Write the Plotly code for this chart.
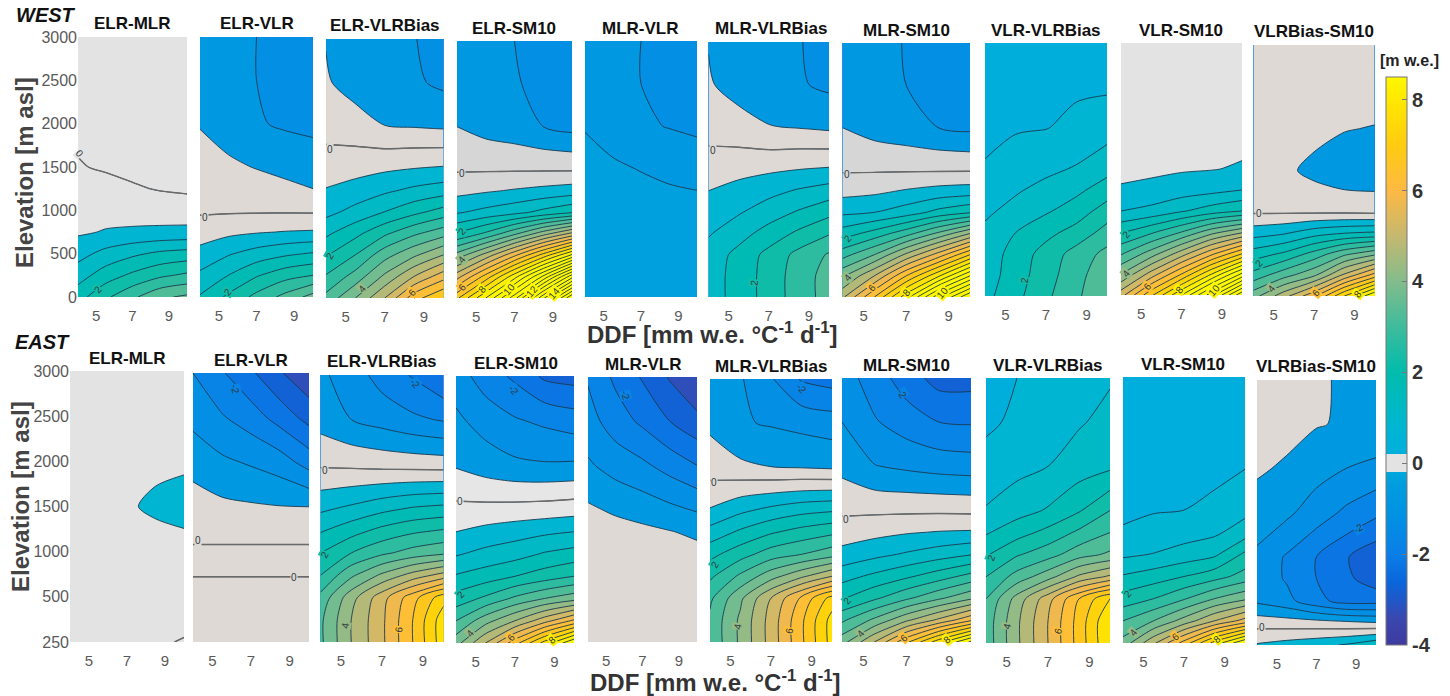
import plotly.graph_objects as go

DDF = [4, 5.5, 7, 8.5, 10]
ELEV = [0, 250, 500, 750, 1000, 1250, 1500, 2000, 2500, 3000]
X_TICKS = [5, 7, 9]
Y_TICKS = [0, 500, 1000, 1500, 2000, 2500, 3000]
WEST_LABELS = ["0", "500", "1000", "1500", "2000", "2500", "3000"]
EAST_LABELS = ["250", "500", "1000", "1500", "2000", "2500", "3000"]
BAR_TICKS = [-4, -2, 0, 2, 4, 6, 8]
NAMES = ["ELR-MLR", "ELR-VLR", "ELR-VLRBias", "ELR-SM10", "MLR-VLR",
         "MLR-VLRBias", "MLR-SM10", "VLR-VLRBias", "VLR-SM10", "VLRBias-SM10"]

# rows: one per ELEV value, columns: one per DDF value [m w.e.]
W_ELR_MLR = [[1.8,2.4,2.9,3.4,3.6],[1.27,1.75,2.1,2.4,2.6],[.82,1.15,1.4,1.6,1.7],[.43,.53,.57,.6,.62],
             [.34,.32,.3,.27,.25],[.2,.15,.05,-.03,-.08],[.03,-.05,-.12,-.17,-.2],[-.1,-.15,-.2,-.25,-.3],
             [-.12,-.18,-.22,-.28,-.32],[-.15,-.2,-.25,-.3,-.35]]
W_ELR_VLR = [[1.55,2.1,2.65,3.15,3.7],[1.1,1.5,1.95,2.3,2.5],[.65,.95,1.2,1.4,1.55],[.27,.38,.46,.52,.55],
             [-.08,-.07,-.07,-.07,-.08],[-.2,-.25,-.32,-.4,-.5],[-.3,-.42,-.52,-.62,-.68],[-.53,-.7,-.95,-1.07,-1.15],
             [-.6,-.8,-1.0,-1.1,-1.2],[-.62,-.82,-1.0,-1.12,-1.25]]
W_ELR_VLRBIAS = [[3.15,4.0,5.0,6.3,7.0],[2.55,3.2,4.1,5.0,5.8],[1.95,2.5,3.3,3.9,4.5],[1.4,1.85,2.4,2.9,3.3],
                 [.85,1.15,1.5,1.85,2.2],[.53,.7,.9,1.1,1.25],[.25,.32,.42,.5,.56],[-.2,-.3,-.5,-.55,-.6],
                 [-.45,-.7,-.8,-.93,-1.1],[-.52,-.75,-.85,-.98,-1.2]]
W_ELR_SM10 = [[6.9,8.5,10.3,12.9,15.5],[5.3,6.7,8.3,10.1,12.3],[3.7,4.7,5.9,7.2,8.6],[2.05,2.6,3.4,4.3,5.15],
              [.95,1.15,1.35,1.65,1.95],[.35,.45,.55,.65,.75],[-.05,-.05,-.05,-.05,-.05],[-.5,-.68,-.8,-1.0,-1.15],
              [-.65,-.8,-.95,-1.15,-1.3],[-.75,-.88,-1.0,-1.2,-1.4]]
W_MLR_VLR = [[-.1,-.1,-.1,-.1,-.1],[-.1,-.1,-.1,-.1,-.1],[-.12,-.12,-.12,-.12,-.12],[-.15,-.15,-.15,-.15,-.15],
             [-.2,-.22,-.25,-.3,-.35],[-.25,-.3,-.38,-.45,-.5],[-.32,-.42,-.52,-.62,-.7],[-.53,-.72,-.93,-1.02,-1.1],
             [-.62,-.82,-1.0,-1.1,-1.2],[-.65,-.85,-1.0,-1.12,-1.25]]
W_MLR_VLRBIAS = [[1.25,1.7,2.2,2.75,3.2],[1.25,1.7,2.2,2.75,3.2],[1.2,1.65,2.15,2.65,3.05],[.95,1.3,1.7,2.1,2.45],
                 [.7,.95,1.25,1.55,1.85],[.5,.68,.85,1.05,1.22],[.25,.33,.42,.5,.56],[-.2,-.3,-.48,-.53,-.6],
                 [-.45,-.7,-.8,-.95,-1.1],[-.52,-.75,-.85,-.97,-1.2]]
W_MLR_SM10 = [[4.9,6.5,8.3,10.3,12],[3.9,5.0,6.5,7.9,9.5],[2.8,3.5,4.6,5.7,7],[1.75,2.2,2.8,3.6,4.5],
              [.9,1.0,1.25,1.65,1.95],[.33,.4,.55,.68,.75],[-.05,-.05,-.05,-.05,-.05],[-.5,-.7,-.83,-1,-1.1],
              [-.6,-.82,-1,-1.15,-1.25],[-.7,-.88,-1.02,-1.2,-1.3]]
W_VLR_VLRBIAS = [[1.35,1.85,2.4,2.9,3.5],[1.25,1.75,2.3,2.8,3.4],[1.2,1.7,2.2,2.7,3.15],[1.1,1.5,1.85,2.2,2.7],
                 [.92,1.15,1.45,1.75,2.25],[.75,.95,1.15,1.4,1.75],[.55,.75,.9,1.05,1.35],[.35,.45,.48,.62,.76],
                 [.25,.3,.35,.42,.42],[.2,.25,.3,.35,.4]]
W_VLR_SM10 = [[5.3,6.9,8.5,10.3,12.4],[4,5.2,6.5,8,9.6],[2.9,3.7,4.7,5.8,6.9],[1.95,2.4,3,3.8,4.4],
              [1,1.15,1.45,1.75,2],[.55,.62,.75,.85,1],[.38,.41,.45,.48,.55],[.2,.2,.22,.25,.3],
              [.15,.15,.16,.17,.2],[.1,.1,.1,.12,.15]]
W_VLRBIAS_SM10 = [[3.8,4.8,5.9,7.5,9],[2.7,3.3,3.9,5.1,6.2],[1.75,2.1,2.7,3.4,3.9],[.8,.95,1.3,1.5,1.6],
                  [-.05,-.05,-.05,-.05,-.08],[-.15,-.25,-.38,-.48,-.5],[-.2,-.4,-.62,-.72,-.8],[-.2,-.25,-.35,-.48,-.52],
                  [-.2,-.2,-.22,-.25,-.3],[-.2,-.2,-.2,-.2,-.2]]

E_ELR_MLR = [[.1,.1,.1,.1,-.05],[.2,.2,.2,.2,.2],[.2,.2,.2,.2,.2],[.2,.2,.2,.2,.2],
             [.2,.2,.2,.25,.3],[.2,.2,.25,.35,.49],[.2,.25,.38,.68,.85],[.2,.2,.22,.28,.35],
             [.2,.2,.2,.2,.2],[.2,.2,.2,.2,.2]]
E_ELR_VLR = [[-.1,-.1,-.1,-.1,-.1],[-.08,-.08,-.08,-.08,-.08],[-.05,-.05,-.05,-.05,-.05],[.005,.005,.005,.005,.005],
             [.08,.08,.08,.08,.08],[-.15,-.15,-.15,-.15,-.15],[-.3,-.38,-.43,-.47,-.48],[-.65,-.9,-1.05,-1.25,-1.7],
             [-1.15,-1.45,-1.75,-2.2,-2.67],[-1.5,-1.95,-2.42,-2.95,-3.4]]
E_ELR_VLRBIAS = [[3.4,4.5,5.4,6.5,7.8],[3.4,4.5,5.4,6.5,7.8],[3.15,4.3,5.3,6.3,7.3],[2.5,3.4,4.1,4.7,5.2],
                 [2,2.5,2.9,3.2,3.4],[1.45,1.8,2.15,2.4,2.55],[.9,1.1,1.35,1.55,1.65],[-.08,-.12,-.18,-.22,-.25],
                 [-.7,-1,-1.2,-1.4,-1.55],[-.9,-1.25,-1.7,-2.05,-2.5]]
E_ELR_SM10 = [[3.8,5,6.3,7.7,9],[3,3.8,4.5,5.3,6.1],[2.2,2.6,3.1,3.5,3.8],[1.55,1.75,2,2.25,2.5],
              [.95,1.15,1.3,1.55,1.7],[.5,.65,.78,.9,1],[.13,.15,.18,.22,.28],[-.55,-.75,-.9,-.95,-.93],
              [-.9,-1.2,-1.45,-1.6,-1.75],[-1.25,-1.75,-2.1,-2.6,-2.7]]
E_MLR_VLR = [[-.1,-.1,-.1,-.1,-.1],[-.1,-.1,-.1,-.1,-.1],[-.1,-.1,-.1,-.1,-.1],[-.1,-.1,-.12,-.15,-.2],
             [-.12,-.15,-.2,-.3,-.35],[-.2,-.3,-.38,-.48,-.6],[-.42,-.58,-.72,-.88,-1.05],[-.93,-1.2,-1.4,-1.7,-2],
             [-1.3,-1.75,-2.1,-2.5,-2.85],[-1.55,-2.1,-2.55,-3.05,-3.5]]
E_MLR_VLRBIAS = [[3.1,4.1,5.2,6.4,7.7],[3.1,4.1,5.2,6.4,7.7],[2.9,3.9,5,6.1,7.2],[2.4,3.1,3.8,4.4,5],
                 [1.85,2.3,2.75,3,3.3],[1.2,1.6,1.95,2.2,2.4],[.55,.9,1.15,1.35,1.45],[-.25,-.4,-.5,-.55,-.6],
                 [-.6,-.95,-1.05,-1.15,-1.25],[-.7,-.95,-1.45,-2.05,-2.2]]
E_MLR_SM10 = [[3.8,5,6.4,7.8,9.1],[2.9,3.6,4.4,5.1,5.9],[1.95,2.4,2.9,3.4,3.9],[1.3,1.6,1.9,2.25,2.65],
              [.65,.85,1.05,1.25,1.45],[.25,.35,.45,.52,.55],[-.1,-.1,-.1,-.1,-.12],[-.65,-.98,-1.1,-1.2,-1.25],
              [-1,-1.45,-1.75,-2,-2.05],[-1.25,-1.75,-2.25,-2.7,-2.7]]
E_VLR_VLRBIAS = [[3.2,4.4,5.5,6.7,8],[3.2,4.4,5.5,6.7,8],[3,4.2,5.3,6.5,7.5],[2.5,3.2,3.8,4.6,5.1],
                 [1.95,2.45,2.8,3.3,3.6],[1.45,1.8,2.15,2.6,3],[1.05,1.3,1.55,1.95,2.5],[.6,.85,1,1.25,1.4],
                 [.45,.55,.75,.95,1.15],[.35,.5,.6,.75,.95]]
E_VLR_SM10 = [[3.7,4.9,6.2,7.7,9],[3,3.5,4.2,5,5.7],[2.2,2.5,2.95,3.5,3.9],[1.55,1.75,2,2.3,2.7],
              [.9,1.02,1.2,1.4,2.1],[.55,.65,.78,.9,1.25],[.4,.47,.5,.6,.85],[.3,.32,.33,.38,.47],
              [.25,.27,.28,.3,.35],[.2,.22,.24,.25,.3]]
E_VLRBIAS_SM10 = [[.55,.7,.85,1.05,1.4],[-.2,-.25,-.3,-.38,-.47],[-1.1,-1.35,-1.85,-2.2,-2.2],[-1.2,-1.55,-2,-2.4,-2.75],
                  [-1.15,-1.55,-2,-2.45,-2.95],[-.85,-1.2,-1.6,-2,-2.3],[-.65,-.9,-1.25,-1.6,-1.9],[-.45,-.55,-.8,-1,-1.12],
                  [-.3,-.38,-.47,-.55,-.62],[-.25,-.3,-.45,-.55,-.6]]

WEST = [W_ELR_MLR, W_ELR_VLR, W_ELR_VLRBIAS, W_ELR_SM10, W_MLR_VLR,
        W_MLR_VLRBIAS, W_MLR_SM10, W_VLR_VLRBIAS, W_VLR_SM10, W_VLRBIAS_SM10]
EAST = [E_ELR_MLR, E_ELR_VLR, E_ELR_VLRBIAS, E_ELR_SM10, E_MLR_VLR,
        E_MLR_VLRBIAS, E_MLR_SM10, E_VLR_VLRBIAS, E_VLR_SM10, E_VLRBIAS_SM10]

# contour labels, panel by panel: (contour value, DDF, elevation, rotation)
W_CONTOUR_LABELS = [
    [(0,4.1,1660,50),(2,5.1,85,-50)],
    [(0,4.25,918,0),(2,5.5,58,-50)],
    [(0,4.2,1718,0),(2,4.22,490,-60),(4,5.85,112,-50),(6,8.4,66,-50)],
    [(0,4.25,1451,0),(2,4.25,778,-50),(4,4.25,447,-50),(6,4.25,128,-50),(8,5.3,105,-50),(10,6.7,105,-50),(12,7.9,78,-50),(14,9.05,58,-50)],
    [],
    [(0,4.2,1718,0),(2,6.3,165,-85)],
    [(0,4.2,1447,0),(2,4.25,690,-50),(4,4.25,228,-50),(6,5.4,110,-50),(8,7,59,-50),(10,8.7,59,-50)],
    [(2,5.95,182,-85)],
    [(2,4.25,725,-50),(4,4.25,258,-50),(6,5.3,107,-50),(8,6.9,71,-50),(10,8.6,59,-50)],
    [(0,4.25,988,0),(2,4.25,390,-50),(4,4.9,84,-50),(6,7.1,40,-50),(8,9.2,24,-50)],
]
E_CONTOUR_LABELS = [
    [],
    [(0,4.26,1129,0),(0,9.2,719,0),(-2,6.2,2821,80)],
    [(0,4.2,1923,0),(2,4.22,980,-60),(4,5.2,187,-80),(6,7.8,146,-80),(-2,8.6,2899,50)],
    [(0,4.2,1590,0),(2,4.25,542,-50),(4,4.7,112,-50),(6,6.8,64,-50),(8,8.9,37,-40),(-2,6.9,2843,50)],
    [(-2,6.07,2792,75)],
    [(0,4.2,1816,0),(2,4.25,883,-60),(4,5.4,183,-80),(6,7.9,133,-80),(-2,8.5,2893,50)],
    [(0,4.2,1394,0),(2,4.25,475,-50),(4,4.87,95,-50),(6,6.9,49,-40),(8,8.9,30,-40),(-2,6.8,2829,60)],
    [(2,4.22,962,-70),(4,5.04,196,-75),(6,7.5,140,-75)],
    [(2,4.25,553,-50),(4,4.5,124,-50),(6,6.6,68,-40),(8,8.6,41,-40)],
    [(0,4.23,200,0),(-2,9.1,1315,-30)],
]

# ---- styling and layout (pixels in a 1450x696 page) ----
W, H = 1450, 696
GRAY, BEIGE, SILVER, PALE = "#E3E3E3", "#DED9D4", "#D6D6D6", "#E6E6E6"
W_NEAR_ZERO = [GRAY, BEIGE, BEIGE, SILVER, BEIGE, BEIGE, SILVER, BEIGE, GRAY, BEIGE]
E_NEAR_ZERO = [GRAY, BEIGE, BEIGE, PALE, BEIGE, BEIGE, BEIGE, BEIGE, BEIGE, BEIGE]
W_NEG = {4: "#00A0DF"}
W_POS = {7: "#00AEDC"}
E_NEG = {}
E_POS = {7: "#00AEDC", 8: "#00AEDE"}
W_BOX = [(78,187,37,297),(200,313,37,297),(326,443.5,39,298),(457,572,41,298),(585,697,41,297),
         (708.5,829,42,297),(842.5,970,43,297),(985,1107,43,296),(1121,1242,43,295),(1253.5,1374.6,45,296)]
E_BOX = [(70,184,371,642),(193,309,373,642),(320.5,443.5,375,642),(456,574,376,643),(588,697,377,642),
         (710,832,379,642),(842,971,378,642),(986,1110,378,643),(1123,1245,377,643),(1257,1376,380,645)]
W_TITLE = [(132,24),(257,24),(385,26),(514,28),(640,28),(771,29),(906,30),(1046,30),(1181,30),(1314,32)]
E_TITLE = [(127,358),(251,360),(382,362),(516,363),(643,364),(771,366),(906,365),(1048,365),(1183,364),(1316,366)]

ZMIN, ZMAX = -4, 8.5
BASE = [(-4,"#3E3A9E"),(-3.4,"#3A48B0"),(-3,"#1F58C8"),(-2.6,"#0A66DC"),(-2,"#0A7FE8"),(-1,"#0094E2"),
        (-.5,"#009CDF"),(-.2,"#00A8DC"),(.2,"#00B0DC"),(.5,"#00B2D8"),(1,"#00B8CC"),(2,"#00BCAC"),(3,"#3EBC9C"),
        (4,"#83BC8C"),(5,"#C5B870"),(6,"#FDB943"),(7,"#FFCC10"),(8,"#FFE800"),(8.5,"#FFF800")]

def n(v):
    return (v - ZMIN) / (ZMAX - ZMIN)

def band_color(v):
    for (a, ca), (b, cb) in zip(BASE, BASE[1:]):
        if v <= b:
            t = (v - a) / (b - a)
            rgb = [round(int(ca[k:k+2], 16) * (1 - t) + int(cb[k:k+2], 16) * t) for k in (1, 3, 5)]
            return "#%02X%02X%02X" % tuple(rgb)
    return BASE[-1][1]

def bar_scale():
    s = [(n(v), c) for v, c in BASE]
    out = [p for p in s if p[0] < n(-.2)] + [(n(-.2), "#00A8DC"), (n(-.2), GRAY), (n(.2), GRAY), (n(.2), "#00B0DC")]
    out += [p for p in s if p[0] > n(.2)]
    return [list(p) for p in out]

def panel_scale(neg, pos):
    # the very bottom of the scale only shows as the hairline base under the fills
    out = [(0, neg), (n(-3.95), BASE[0][1])]
    out += [(n(v), c) for v, c in BASE[1:] if v <= -.5]
    out += [(n(-.49), neg), (n(0), neg), (n(.001), pos), (n(.49), pos)]
    out += [(n(v), c) for v, c in BASE if v >= .5]
    return [list(p) for p in out]

DARK = "#1B3A50"
SMOOTH = 0.8
fig = go.Figure()
layout_axes = {}
ann = []

idx = 0
for rows, boxes, near, negs, poss, labs, clabels in [
        (WEST, W_BOX, W_NEAR_ZERO, W_NEG, W_POS, WEST_LABELS, W_CONTOUR_LABELS),
        (EAST, E_BOX, E_NEAR_ZERO, E_NEG, E_POS, EAST_LABELS, E_CONTOUR_LABELS)]:
    for i, z in enumerate(rows):
        idx += 1
        xa, ya = f"x{idx}", f"y{idx}"
        l, r, t, b = boxes[i]
        neg = negs.get(i, near[i])
        pos = poss.get(i, near[i])
        fig.add_trace(go.Contour(
            x=DDF, y=ELEV, z=z, xaxis=xa, yaxis=ya, showscale=False, hoverinfo="skip",
            colorscale=panel_scale(neg, pos), zmin=ZMIN, zmax=ZMAX, autocontour=False,
            contours=dict(start=-4.5, end=16.5, size=0.5, coloring="fill", showlines=True),
            line=dict(color=DARK, width=0.9, smoothing=SMOOTH)))
        flat = [v for row in z for v in row]
        if min(flat) < 0 < max(flat):
            fig.add_trace(go.Contour(
                x=DDF, y=ELEV, z=z, xaxis=xa, yaxis=ya, showscale=False, hoverinfo="skip",
                autocontour=False, contours=dict(start=0, end=0, size=1, coloring="none"),
                line=dict(color="#6A6A6A", width=1.4, smoothing=SMOOTH)))
        first = i == 0
        layout_axes[f"xaxis{idx}"] = dict(
            domain=[l / W, r / W], range=[4, 10], anchor=ya, tickvals=X_TICKS, showgrid=False, zeroline=False,
            showline=False, ticks="outside", ticklen=5, tickcolor="rgba(0,0,0,0)",
            tickfont=dict(family="Liberation Sans", size=15, color="#5A5A5A"))
        layout_axes[f"yaxis{idx}"] = dict(
            domain=[1 - b / H, 1 - t / H], range=[0, 3000], anchor=xa, showgrid=False, zeroline=False,
            showline=False, showticklabels=first, tickvals=Y_TICKS, ticktext=labs, ticks="",
            tickfont=dict(family="Liberation Sans", size=16, color="#5A5A5A"))
        for val, dx, de, rot in clabels[i]:
            bg = pos if val == 0 else band_color(val + .25)
            ann.append(dict(x=dx, y=de, xref=xa, yref=ya, text=str(val), showarrow=False, textangle=rot,
                            bgcolor=bg, borderpad=0, xanchor="center", yanchor="middle",
                            font=dict(family="Liberation Sans", size=10, color="#2E3A40")))

# colour bar, carried by an empty marker trace
fig.add_trace(go.Scatter(
    x=[None], y=[None], mode="markers", hoverinfo="skip", showlegend=False, xaxis="x1", yaxis="y1",
    marker=dict(color=[0], cmin=ZMIN, cmax=ZMAX, colorscale=bar_scale(), showscale=True,
                colorbar=dict(x=1386 / W, xanchor="left", xpad=0, ypad=0, y=1 - 645 / H, yanchor="bottom",
                              lenmode="pixels", len=568, thicknessmode="pixels", thickness=21,
                              outlinecolor="#777777", outlinewidth=1, tickvals=BAR_TICKS,
                              ticktext=[f"<b>{v}</b>" for v in BAR_TICKS],
                              ticks="inside", ticklen=5, tickcolor="#777777",
                              tickfont=dict(family="Liberation Sans", size=20, color="#333333")))))

def text(x, y, s, size, color="#111111", angle=0):
    ann.append(dict(x=x / W, y=1 - y / H, xref="paper", yref="paper", text=s, showarrow=False, textangle=angle,
                    xanchor="center", yanchor="middle", font=dict(family="Liberation Sans", size=size, color=color)))

for pos in (W_TITLE, E_TITLE):
    for name, (x, y) in zip(NAMES, pos):
        text(x, y, f"<b>{name}</b>", 17)
text(46, 15, "<b><i>WEST</i></b>", 20)
text(42, 342, "<b><i>EAST</i></b>", 20)
text(24, 173, "<b>Elevation [m asl]</b>", 24, "#444444", -90)
text(20, 497, "<b>Elevation [m asl]</b>", 24, "#444444", -90)
xlab = "<b>DDF [mm w.e. °C<sup>-1</sup> d<sup>-1</sup>]</b>"
text(712, 333, xlab, 24, "#333333")
text(715, 681, xlab, 24, "#333333")
text(1409, 60, "<b>[m w.e.]</b>", 16, "#222222")

fig.update_layout(width=W, height=H, autosize=False,
                  margin=dict(l=0, r=0, t=0, b=0, autoexpand=False),
                  paper_bgcolor="white", plot_bgcolor="white", showlegend=False,
                  annotations=ann, **layout_axes)

fig.write_html("out.html", config={"displayModeBar": False},
               post_script="document.body.style.margin='0';document.documentElement.style.overflow='hidden';")
